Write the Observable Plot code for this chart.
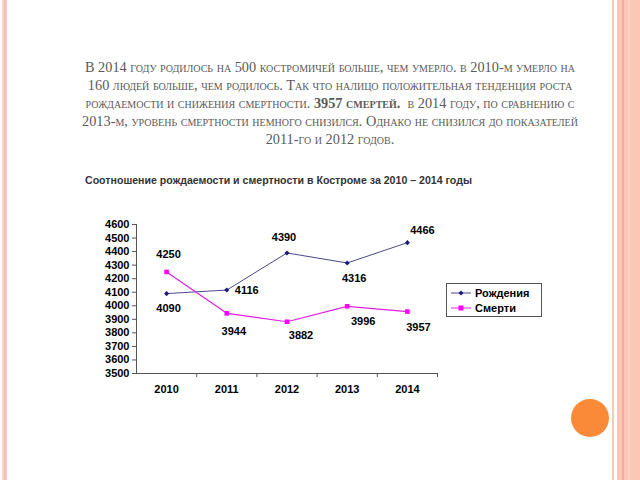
<!DOCTYPE html>
<html><head><meta charset="utf-8">
<script src="https://cdn.jsdelivr.net/npm/d3@7"></script>
<script src="https://cdn.jsdelivr.net/npm/@observablehq/plot@0.6"></script>
<style>
html,body{margin:0;padding:0;background:#fff;}
#page{position:relative;width:640px;height:480px;overflow:hidden;background:#fff;}
.abs{position:absolute;}
#bl{left:2px;top:0;width:5px;height:480px;background:linear-gradient(to right,#fde3d2,#f7b9ae 60%,#fbd0c2);}
#br1{left:612px;top:0;width:2px;height:480px;background:#f5c9b2;}
#br2{left:617px;top:0;width:23px;height:480px;background:#fcc7b4;}
#br3{left:622px;top:0;width:2px;height:480px;background:#f3ad98;}
#br4{left:628px;top:0;width:2px;height:480px;background:#fdd3c4;}
#text{left:30px;top:58px;width:600px;text-align:center;font-family:"Liberation Serif","DejaVu Serif",serif;font-variant:small-caps;font-size:14.3px;line-height:18.1px;color:#5a5a5a;white-space:nowrap;}
#ctitle{left:85px;top:174px;font-family:"Liberation Sans",Arial,sans-serif;font-weight:bold;font-size:10.6px;color:#333;white-space:nowrap;}
#chart{left:0;top:200px;}
#legend{left:446px;top:283px;width:94px;height:32px;border:1px solid #555;background:#fff;font-family:"Liberation Sans",Arial,sans-serif;font-weight:bold;font-size:11px;color:#000;}
.lrow{position:absolute;left:3px;height:14px;display:flex;align-items:center;}
.lrow svg{margin-right:3px;}
#circle{left:571px;top:399px;width:38px;height:38px;border-radius:50%;background:#fa8a38;}
</style></head><body>
<div id="page">
 <div id="bl" class="abs"></div>
 <div id="br1" class="abs"></div>
 <div id="br2" class="abs"></div>
 <div id="br3" class="abs"></div>
 <div id="br4" class="abs"></div>
 <div id="text" class="abs">В 2014 году родилось на 500 костромичей больше, чем умерло. в 2010-м умерло на<br>160 людей больше, чем родилось. Так что налицо положительная тенденция роста<br>рождаемости и снижения смертности. <b>3957 смертей.</b>&nbsp; в 2014 году, по сравнению с<br>2013-м, уровень смертности немного снизился. Однако не снизился до показателей<br>2011-го и 2012 годов.</div>
 <div id="ctitle" class="abs">Соотношение рождаемости и смертности в Костроме за 2010 – 2014 годы</div>
 <div id="chart" class="abs"></div>
 <div id="legend" class="abs"></div>
 <div id="circle" class="abs"></div>
</div>
<script>
const years = [2010, 2011, 2012, 2013, 2014];
const births = [4090, 4116, 4390, 4316, 4466];
const deaths = [4250, 3944, 3882, 3996, 3957];
const yTicks = [3500, 3600, 3700, 3800, 3900, 4000, 4100, 4200, 4300, 4400, 4500, 4600];
const seriesNames = ["Рождения", "Смерти"];
const seriesColors = ["#1a1a80", "#ff00ff"];
const lineColors = ["#4a4a8a", "#e020e0"];

// label placement (dx, dy in px) per point
const birthOffsets = [[2, 15], [20, 0], [-3, -15], [7, 15], [15, -12]];
const deathOffsets = [[2, -17], [7, 18], [14, 14], [16, 15], [11, 16]];

const bRows = years.map((y, i) => ({year: y, value: births[i]}));
const dRows = years.map((y, i) => ({year: y, value: deaths[i]}));
const boundaries = years.map(y => y + 0.5);

const font = {fontFamily: "Liberation Sans, Arial, sans-serif", fontWeight: "bold", fontSize: 11};

const labelMarks = (rows, offs) => rows.map((r, i) =>
  Plot.text([r], {x: "year", y: "value", text: d => String(d.value), dx: offs[i][0], dy: offs[i][1], fill: "#000", ...font}));

const chart = Plot.plot({
  width: 560, height: 200,
  marginLeft: 136, marginRight: 123, marginTop: 24, marginBottom: 27,
  style: {background: "transparent", color: "#000", fontFamily: "Liberation Sans, Arial, sans-serif"},
  x: {type: "linear", domain: [2009.5, 2014.5], label: null},
  y: {domain: [3500, 4600], label: null},
  marks: [
    Plot.ruleX([2009.5], {stroke: "#555"}),
    Plot.ruleY([3500], {stroke: "#555"}),
    Plot.axisY({ticks: yTicks, tickSize: 4, tickPadding: 3, tickFormat: d => String(d), stroke: "#555", label: null, ...font}),
    Plot.axisX({ticks: years, tickSize: 0, tickPadding: 12, tickFormat: d => String(d), label: null, ...font}),
    Plot.axisX({ticks: boundaries, tickSize: 4, tickFormat: () => "", stroke: "#555", label: null}),
    Plot.line(bRows, {x: "year", y: "value", stroke: lineColors[0], strokeWidth: 1}),
    Plot.dot(bRows, {x: "year", y: "value", symbol: "diamond2", r: 2.3, fill: seriesColors[0], stroke: "none"}),
    Plot.line(dRows, {x: "year", y: "value", stroke: lineColors[1], strokeWidth: 1.2}),
    Plot.dot(dRows, {x: "year", y: "value", symbol: "square", r: 2.6, fill: seriesColors[1], stroke: "none"}),
    ...labelMarks(bRows, birthOffsets),
    ...labelMarks(dRows, deathOffsets)
  ]
});
document.getElementById("chart").appendChild(chart);

// legend
const legend = document.getElementById("legend");
seriesNames.forEach((name, i) => {
  const row = document.createElement("div");
  row.className = "lrow";
  row.style.top = (i === 0 ? 2 : 17) + "px";
  const marker = i === 0
    ? `<path d="M11,2.5 L13.5,5 L11,7.5 L8.5,5 Z" fill="${seriesColors[0]}"/>`
    : `<rect x="8.5" y="2.5" width="5" height="5" fill="${seriesColors[1]}"/>`;
  row.innerHTML = `<svg width="22" height="10"><line x1="1" x2="21" y1="5" y2="5" stroke="${lineColors[i]}" stroke-width="1"/>${marker}</svg><span>${name}</span>`;
  legend.appendChild(row);
});
</script>
</body></html>
